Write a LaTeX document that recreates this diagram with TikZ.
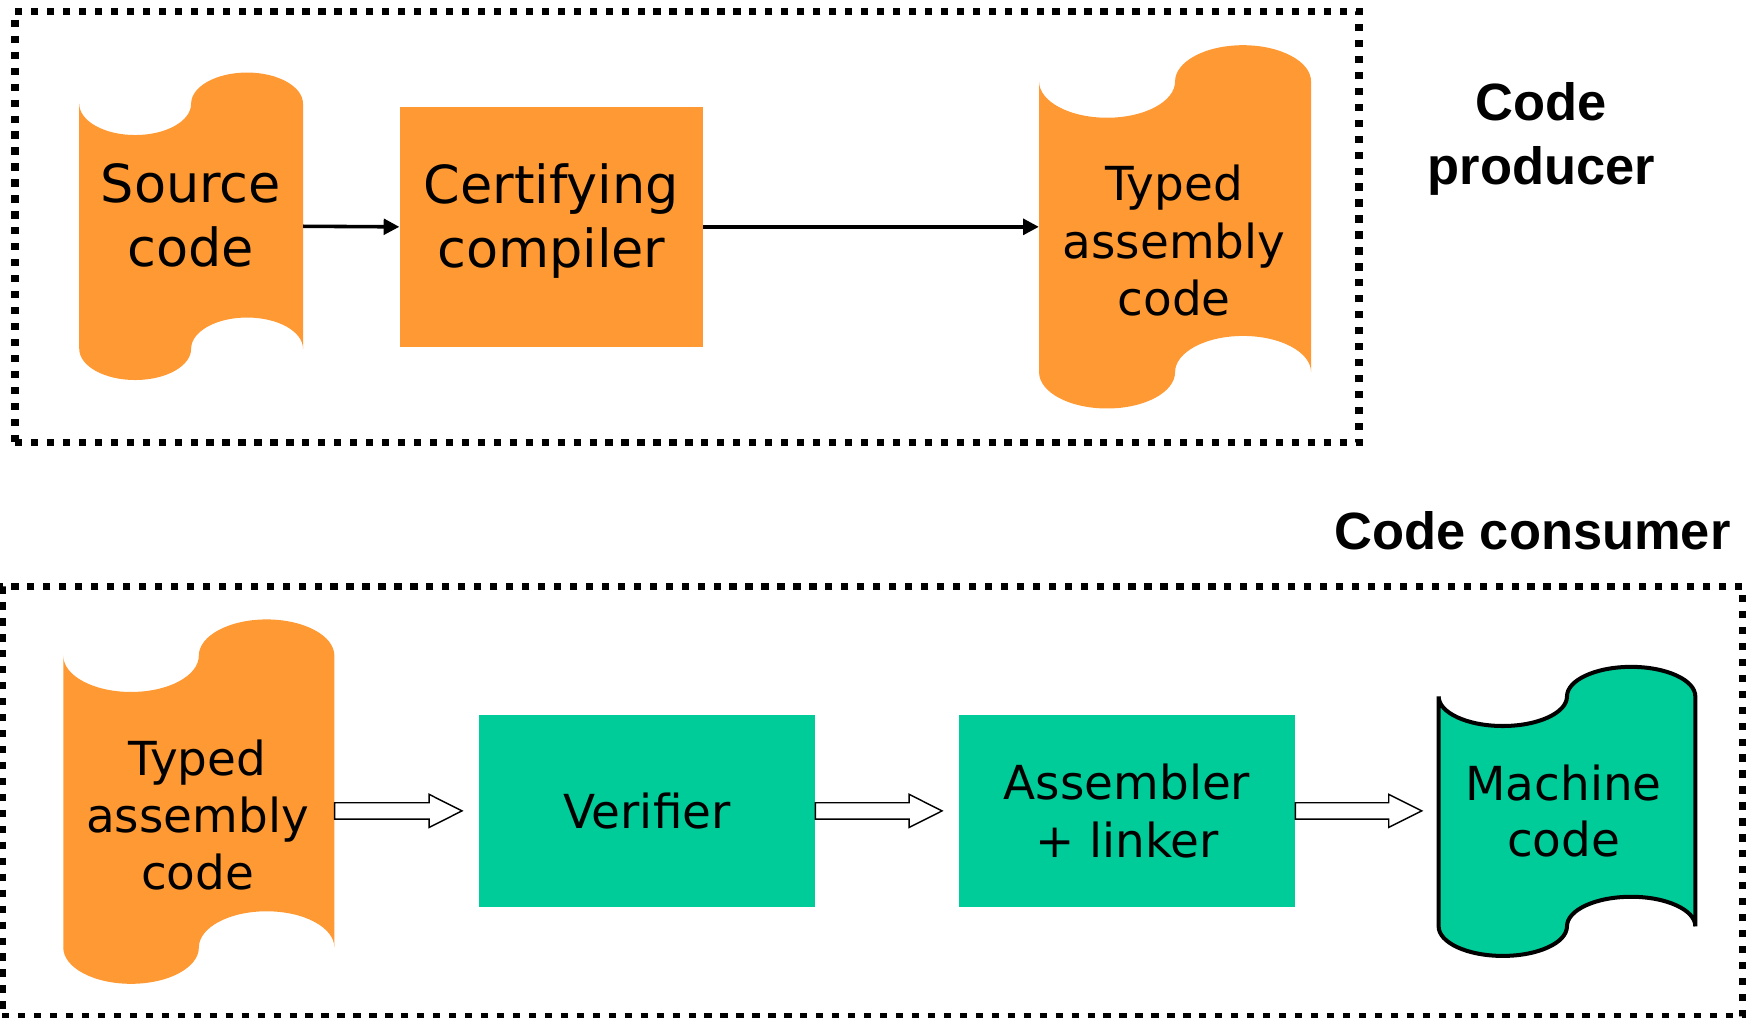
\documentclass[tikz,border=0pt]{standalone}
\usepackage{fontspec}
\setmainfont{DejaVu Sans}
\newfontfamily\labelfont{Liberation Sans}
\usetikzlibrary{arrows.meta,calc}

\definecolor{tapeorange}{RGB}{255,153,51}
\definecolor{stagegreen}{RGB}{0,204,153}

% Punched-tape outline: style, x-left, x-right, y-top, y-bottom, wave amplitude
\newcommand\tapeshape[6]{%
  \path[#1] (#2,#4)
    .. controls (#2,{#4+0.5523*#6}) and ({#2+0.4477*0.25*(#3-#2)},{#4+#6}) .. ({#2+0.25*(#3-#2)},{#4+#6})
    .. controls ({#2+1.5523*0.25*(#3-#2)},{#4+#6}) and ({0.5*(#2+#3)},{#4+0.5523*#6}) .. ({0.5*(#2+#3)},#4)
    .. controls ({0.5*(#2+#3)},{#4-0.5523*#6}) and ({#2+2.4477*0.25*(#3-#2)},{#4-#6}) .. ({#2+0.75*(#3-#2)},{#4-#6})
    .. controls ({#2+3.5523*0.25*(#3-#2)},{#4-#6}) and (#3,{#4-0.5523*#6}) .. (#3,#4)
    -- (#3,#5)
    .. controls (#3,{#5-0.5523*#6}) and ({#2+3.5523*0.25*(#3-#2)},{#5-#6}) .. ({#2+0.75*(#3-#2)},{#5-#6})
    .. controls ({#2+2.4477*0.25*(#3-#2)},{#5-#6}) and ({0.5*(#2+#3)},{#5-0.5523*#6}) .. ({0.5*(#2+#3)},#5)
    .. controls ({0.5*(#2+#3)},{#5+0.5523*#6}) and ({#2+1.5523*0.25*(#3-#2)},{#5+#6}) .. ({#2+0.25*(#3-#2)},{#5+#6})
    .. controls ({#2+0.4477*0.25*(#3-#2)},{#5+#6}) and (#2,{#5+0.5523*#6}) .. (#2,#5)
    -- cycle;}

% Broad outlined arrow from a start point to a tip point (same height)
\newcommand\hollowarrow[2]{%
  \draw[hollow] let \p1=(#1), \p2=(#2) in
    (\x1,\y1-7.3pt) -- (\x2-29.5pt,\y1-7.3pt) -- (\x2-29.5pt,\y1-14.8pt)
    -- (\x2,\y1) -- (\x2-29.5pt,\y1+14.8pt) -- (\x2-29.5pt,\y1+7.3pt)
    -- (\x1,\y1+7.3pt) -- cycle;}

\begin{document}
\begin{tikzpicture}[x=1pt,y=-1pt,
  frame/.style={draw=black, line width=6.5pt, dash pattern=on 6.5pt off 7.8pt,
                inner sep=0pt},
  tapebody/.style={inner sep=0pt, draw=none},
  stage/.style={fill=#1, inner sep=0pt, draw=none, align=center,
                font=\fontsize{42}{52.5}\selectfont},
  bigtext/.style={inner sep=0pt, align=center, font=\fontsize{47}{56.8}\selectfont},
  midtext/.style={inner sep=0pt, align=center, font=\fontsize{42}{#1}\selectfont},
  headline/.style={inner sep=0pt, align=center,
                   font=\labelfont\bfseries\fontsize{47}{57}\selectfont},
  flow/.style={line width=3.2pt, -{Triangle[length=14pt,width=14pt]}},
  hollow/.style={fill=white, draw=black, line width=1.3pt, line join=miter},
]
\useasboundingbox (0,0) rectangle (1568,912);

% ---- producer side ----
\node[frame, minimum width=1204.2pt, minimum height=386.7pt] (producer) at (615.5,203.35) {};

\node[tapebody, minimum width=200.5pt, minimum height=219.5pt] (src) at (171.25,202.75) {};
\tapeshape{fill=tapeorange}{71}{271.5}{93}{312.5}{28}
\node[bigtext] (srctext) at (171,193) {Source\\code};

\node[fill=tapeorange, inner sep=0pt, minimum width=272pt, minimum height=214.7pt] (cert) at (494,203.25) {};
\node[bigtext] (certtext) at (494,198) {Certifying\\compiler};

\node[tapebody, minimum width=243.7pt, minimum height=260.5pt] (tal) at (1052.85,203.25) {};
\tapeshape{fill=tapeorange}{931}{1174.7}{73}{333.5}{32.5}
\node[midtext=51.5] (taltext) at (1052,215.8) {Typed\\assembly\\code};

\draw[flow] (src.east) -- (cert.west);
\draw[flow] (cert.east) -- (tal.west);

\node[headline] (producerlabel) at (1381,124.6) {Code\\producer};

% ---- consumer side ----
\node[headline] (consumerlabel) at (1373,475.7) {Code consumer};
\node[frame, minimum width=1559.5pt, minimum height=384.8pt] (consumer) at (781.75,718.1) {};

\node[tapebody, minimum width=242.9pt, minimum height=261.5pt] (tin) at (178.15,718.25) {};
\tapeshape{fill=tapeorange}{56.7}{299.6}{587.5}{849}{32.5}
\node[midtext=51] (tintext) at (177,730.5) {Typed\\assembly\\code};

\node[stage=stagegreen, minimum width=301.1pt, minimum height=171.7pt] (ver) at (579.75,726.55) {Verifier};
\node[stage=stagegreen, minimum width=301.1pt, minimum height=171.7pt] (asm) at (1009.85,726.55) {Assembler\\+ linker};

\node[tapebody, minimum width=230pt, minimum height=206pt] (mach) at (1404,727) {};
\tapeshape{fill=stagegreen, draw=black, line width=3.6pt}{1289}{1519}{624}{830}{26.5}
\node[midtext=50] (machtext) at (1401,726.8) {Machine\\code};

\hollowarrow{tin.east |- ver.west}{$(ver.west)+(-15,0)$}
\hollowarrow{ver.east}{$(asm.west)+(-15,0)$}
\hollowarrow{asm.east}{$(mach.west |- asm.east)+(-15,0)$}
\end{tikzpicture}
\end{document}
